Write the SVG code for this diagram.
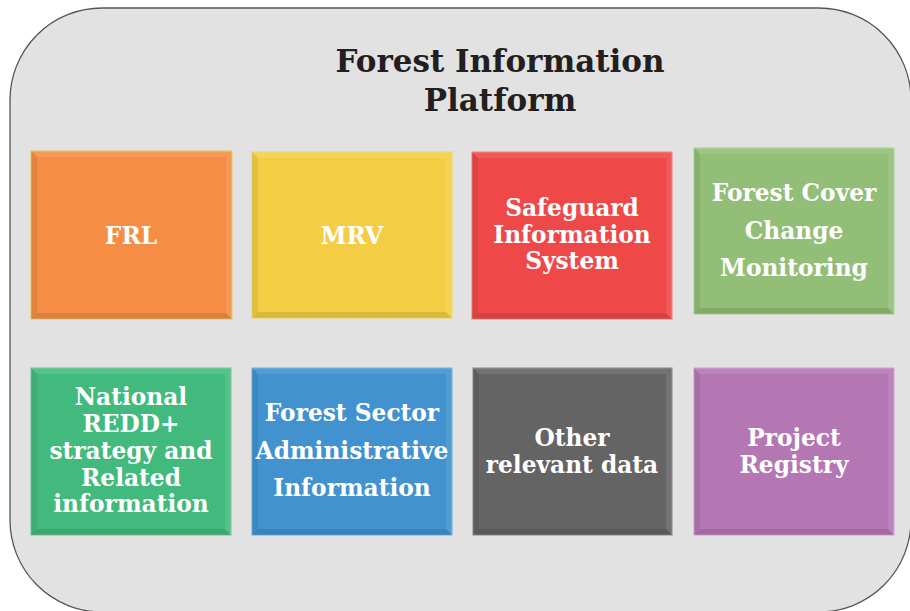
<svg xmlns="http://www.w3.org/2000/svg" width="910" height="611" viewBox="0 0 910 611">
<style>
.t{font-family:"DejaVu Serif","Liberation Serif",serif;font-weight:bold;fill:#fff;font-size:23.3px;text-anchor:middle}
.title{font-family:"DejaVu Serif","Liberation Serif",serif;font-weight:bold;fill:#231f20;font-size:31px;text-anchor:middle}
.hl{fill:#fff;opacity:0.10}
.sh{fill:#000;opacity:0.07}
.sh2{fill:#000;opacity:0.10}
</style>
<defs>
<g id="bevel">
<polygon class="hl" points="0,0 200,0 194,6 6,6"/>
<polygon class="sh" points="0,0 6,6 6,161 0,167"/>
<polygon class="sh2" points="0,167 6,161 194,161 200,167"/>
<polygon class="hl" points="200,0 200,167 194,161 194,6"/>
</g>
</defs>
<rect x="10" y="8" width="901" height="604" rx="92" ry="92" fill="#e1e2e1" stroke="#555" stroke-width="1.3"/>
<g id="title">
<text class="title" x="500" y="72">Forest Information</text>
<text class="title" x="500" y="111">Platform</text>
</g>
<g id="frl">
<rect x="31" y="151" width="201" height="168" fill="#f58d45" stroke="#e6c95a" stroke-width="1"/>
<use href="#bevel" transform="translate(31,151) scale(1.005,1.006)"/>
<text class="t" x="131" y="244">FRL</text>
</g>
<g id="mrv">
<rect x="252" y="152" width="200" height="166" fill="#f3ce45" stroke="#e8dc5a" stroke-width="1"/>
<use href="#bevel" transform="translate(252,152) scale(1,0.994)"/>
<text class="t" x="352" y="244">MRV</text>
</g>
<g id="safeguard">
<rect x="472" y="152" width="200" height="167" fill="#ef4848" stroke="#f07a7a" stroke-width="1"/>
<use href="#bevel" transform="translate(472,152)"/>
<text class="t" x="572" y="216">Safeguard</text>
<text class="t" x="572" y="243">Information</text>
<text class="t" x="572" y="269">System</text>
</g>
<g id="forest-cover">
<rect x="694" y="148" width="200" height="166" fill="#92be78" stroke="#a9d48e" stroke-width="1"/>
<use href="#bevel" transform="translate(694,148) scale(1,0.994)"/>
<text class="t" x="794" y="201">Forest Cover</text>
<text class="t" x="794" y="239">Change</text>
<text class="t" x="794" y="276">Monitoring</text>
</g>
<g id="national-redd">
<rect x="31" y="368" width="200" height="167" fill="#43ba7d" stroke="#6ccc98" stroke-width="1"/>
<use href="#bevel" transform="translate(31,368)"/>
<text class="t" x="131" y="405">National</text>
<text class="t" x="131" y="432">REDD+</text>
<text class="t" x="131" y="459">strategy and</text>
<text class="t" x="131" y="486">Related</text>
<text class="t" x="131" y="512">information</text>
</g>
<g id="forest-sector">
<rect x="252" y="368" width="200" height="167" fill="#4192cf" stroke="#6aaee0" stroke-width="1"/>
<use href="#bevel" transform="translate(252,368)"/>
<text class="t" x="352" y="421">Forest Sector</text>
<text class="t" x="352" y="459">Administrative</text>
<text class="t" x="352" y="496">Information</text>
</g>
<g id="other-data">
<rect x="473" y="368" width="199" height="167" fill="#646464" stroke="#888" stroke-width="1"/>
<use href="#bevel" transform="translate(473,368) scale(0.995,1)"/>
<text class="t" x="572" y="446">Other</text>
<text class="t" x="572" y="473">relevant data</text>
</g>
<g id="project-registry">
<rect x="694" y="368" width="200" height="167" fill="#b577b4" stroke="#d49bd3" stroke-width="1"/>
<use href="#bevel" transform="translate(694,368)"/>
<text class="t" x="794" y="446">Project</text>
<text class="t" x="794" y="473">Registry</text>
</g>
<g id="connectors"/>
</svg>
